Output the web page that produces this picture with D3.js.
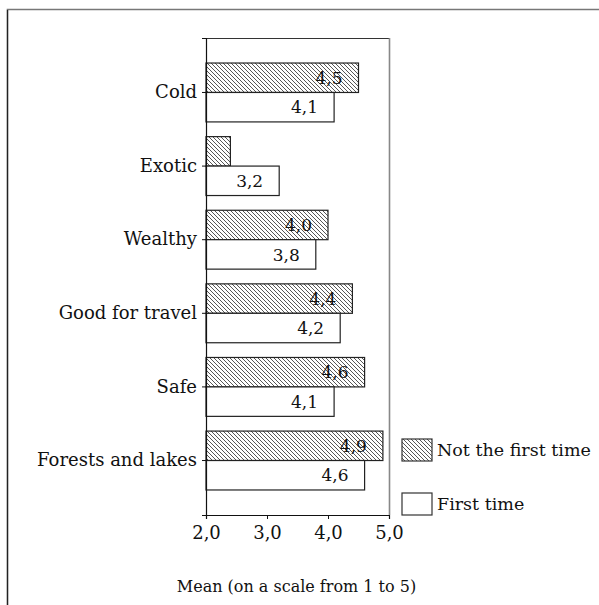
<!DOCTYPE html>
<html>
<head>
<meta charset="utf-8">
<script src="https://cdn.jsdelivr.net/npm/d3@7"></script>
<style>
  html, body { margin: 0; padding: 0; background: #fff; }
  svg { display: block; }
  text { font-family: "DejaVu Serif", "Liberation Serif", serif; fill: #111; }
</style>
</head>
<body>
<svg id="chart" width="599" height="605"></svg>
<script>
const categories = ["Cold", "Exotic", "Wealthy", "Good for travel", "Safe", "Forests and lakes"];
const seriesNames = ["Not the first time", "First time"];
const notFirstTime = [4.5, 2.4, 4.0, 4.4, 4.6, 4.9];
const firstTime = [4.1, 3.2, 3.8, 4.2, 4.1, 4.6];
const xTicks = [2, 3, 4, 5];
const axisTitle = "Mean (on a scale from 1 to 5)";

const svg = d3.select("#chart");
const fmt = v => v.toFixed(1).replace(".", ",");

// pattern
const defs = svg.append("defs");
const pat = defs.append("pattern")
  .attr("id", "hatch").attr("patternUnits", "userSpaceOnUse")
  .attr("width", 4).attr("height", 4);
pat.append("rect").attr("width", 4).attr("height", 4).attr("fill", "#fff");
pat.append("path").attr("d", "M-1,-1 L5,5 M-1,3 L1,5 M3,-1 L5,1")
  .attr("stroke", "#444").attr("stroke-width", 0.9);

// outer frame
svg.append("path").attr("d", "M7.5,605 L7.5,9.5 L599,9.5")
  .attr("fill", "none").attr("stroke", "#777").attr("stroke-width", 1.6);
svg.append("line").attr("x1", 7.5).attr("x2", 7.5).attr("y1", 10).attr("y2", 605)
  .attr("stroke", "#222").attr("stroke-width", 1.2);

const plot = { left: 206, right: 389, top: 38, bottom: 515 };

const x = d3.scaleLinear().domain([2, 5]).range([plot.left, plot.right]);
const y = d3.scaleBand().domain(categories).range([plot.top, plot.bottom])
  .paddingInner(0.2).paddingOuter(0.34);
const ySub = d3.scaleBand().domain(seriesNames).range([0, y.bandwidth()]);

// plot box: top and right border
svg.append("line").attr("x1", plot.left).attr("x2", plot.right)
  .attr("y1", plot.top + 0.5).attr("y2", plot.top + 0.5)
  .attr("stroke", "#333").attr("stroke-width", 1.2);
svg.append("line").attr("x1", plot.right + 0.5).attr("x2", plot.right + 0.5)
  .attr("y1", plot.top).attr("y2", plot.bottom)
  .attr("stroke", "#888").attr("stroke-width", 1.6);

const data = [];
categories.forEach((c, i) => {
  data.push({ cat: c, series: seriesNames[0], value: notFirstTime[i] });
  data.push({ cat: c, series: seriesNames[1], value: firstTime[i] });
});

const g = svg.append("g");
g.selectAll("rect.bar").data(data).join("rect")
  .attr("class", "bar")
  .attr("x", x(2))
  .attr("y", d => y(d.cat) + ySub(d.series))
  .attr("width", d => x(d.value) - x(2))
  .attr("height", ySub.bandwidth())
  .attr("fill", d => d.series === seriesNames[0] ? "url(#hatch)" : "#fff")
  .attr("stroke", "#222").attr("stroke-width", 1.2);

g.selectAll("text.val").data(data.filter(d => x(d.value) - x(2) > 40)).join("text")
  .attr("class", "val")
  .attr("x", d => x(d.value) - 16)
  .attr("y", d => y(d.cat) + ySub(d.series) + ySub.bandwidth() / 2)
  .attr("dy", "0.36em")
  .attr("text-anchor", "end")
  .attr("font-size", 17)
  .text(d => fmt(d.value));

// y axis
const yAxis = d3.axisLeft(y).tickSize(4).tickPadding(5);
const yg = svg.append("g").attr("transform", `translate(${plot.left},0)`).call(yAxis);
yg.select(".domain").attr("stroke", "#111").attr("stroke-width", 1.2);
yg.selectAll(".tick line").attr("stroke", "#111");
yg.selectAll(".tick text").attr("font-size", 18).attr("font-family", "DejaVu Serif").attr("fill", "#111");

// x axis
const xAxis = d3.axisBottom(x).tickValues(xTicks).tickFormat(fmt).tickSize(4).tickPadding(7);
const xg = svg.append("g").attr("transform", `translate(0,${plot.bottom})`).call(xAxis);
xg.select(".domain").attr("stroke", "#111").attr("stroke-width", 1.2);
xg.selectAll(".tick line").attr("stroke", "#111");
xg.selectAll(".tick text").attr("font-size", 18).attr("font-family", "DejaVu Serif").attr("fill", "#111");

// axis title
svg.append("text").attr("x", (plot.left + plot.right) / 2 - 1).attr("y", 592)
  .attr("text-anchor", "middle").attr("font-size", 16).text(axisTitle);

// legend
const legend = svg.append("g");
const legY = [439, 493];
seriesNames.forEach((s, i) => {
  legend.append("rect").attr("x", 402).attr("y", legY[i]).attr("width", 30).attr("height", 22)
    .attr("fill", i === 0 ? "url(#hatch)" : "#fff").attr("stroke", "#333").attr("stroke-width", 1.2);
  legend.append("text").attr("x", 437).attr("y", legY[i] + 11).attr("dy", "0.36em")
    .attr("font-size", 17.5).text(s);
});
</script>
</body>
</html>
